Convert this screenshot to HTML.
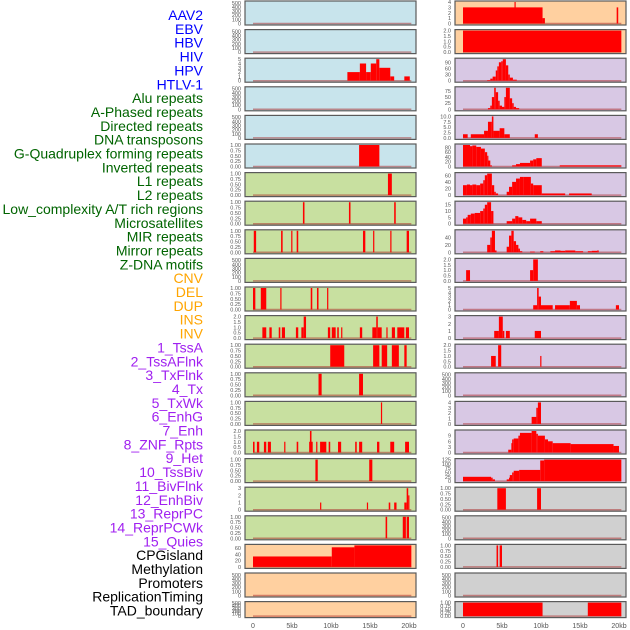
<!DOCTYPE html>
<html><head><meta charset="utf-8">
<style>
html,body{margin:0;padding:0;background:#fff;}
svg{display:block;font-family:"Liberation Sans",sans-serif;}
</style></head>
<body>
<svg id="chart" width="630" height="630" viewBox="0 0 630 630" xmlns="http://www.w3.org/2000/svg"></svg>
<script>
// ---- data ----
const labelNames = ["AAV2","EBV","HBV","HIV","HPV","HTLV-1","Alu repeats","A-Phased repeats","Directed repeats","DNA transposons","G-Quadruplex forming repeats","Inverted repeats","L1 repeats","L2 repeats","Low_complexity A/T rich regions","Microsatellites","MIR repeats","Mirror repeats","Z-DNA motifs","CNV","DEL","DUP","INS","INV","1_TssA","2_TssAFlnk","3_TxFlnk","4_Tx","5_TxWk","6_EnhG","7_Enh","8_ZNF_Rpts","9_Het","10_TssBiv","11_BivFlnk","12_EnhBiv","13_ReprPC","14_ReprPCWk","15_Quies","CPGisland","Methylation","Promoters","ReplicationTiming","TAD_boundary"];
const labelGroups = [0,0,0,0,0,0,1,1,1,1,1,1,1,1,1,1,1,1,1,2,2,2,2,2,3,3,3,3,3,3,3,3,3,3,3,3,3,3,3,4,4,4,4,4];
const xTickLabels = ["0","5kb","10kb","15kb","20kb"];
const xTickValues = [0,5,10,15,20];
const T500 = ["0","100","200","300","400","500"];
const T1 = ["0.00","0.25","0.50","0.75","1.00"];
const T2 = ["0.0","0.5","1.0","1.5","2.0"];
// each panel: bins [startKb, endKb, value]
const panelBins = [
 [], [],
 [[12.1,13.7,2],[13.7,14.5,4],[14.5,15.1,2],[15.1,15.8,4],[15.8,16.2,5],[16.2,17.6,3],[17.6,18.1,1],[19.4,20.1,1]],
 [], [],
 [[13.6,16.2,1]],
 [[17.3,17.8,1]],
 [[6.4,6.6,1],[12.3,12.5,1],[18.1,18.3,1]],
 [[0.1,0.4,1],[3.6,3.8,1],[4.9,5.0,1],[5.6,5.8,1],[14.1,14.4,1],[15.4,15.5,1],[17.6,17.7,1],[19.7,20.0,1]],
 [],
 [[0,0.3,1],[1.0,1.7,1],[3.5,3.6,1],[7.4,7.6,1],[8.2,8.4,1],[9.5,9.6,1]],
 [[1.2,1.7,1],[2.1,2.4,1],[3.3,3.5,1],[3.7,4.1,1],[5.5,5.8,1],[6.2,6.5,1],[6.5,6.8,2],[9.6,9.9,1],[10.1,10.6,1],[10.8,11.0,1],[11.3,11.4,1],[13.7,14.0,1],[15.3,15.8,1],[15.8,16.0,2],[16.0,16.5,1],[17.1,17.2,1],[17.8,18.2,1],[18.5,19.4,1],[19.6,20.0,1]],
 [[9.9,11.7,1],[15.4,16.2,1],[16.5,17.2,1],[17.8,18.7,1],[19.4,19.7,1]],
 [[8.4,8.8,1],[13.6,14.1,1]],
 [[16.4,16.5,1]],
 [[0,0.2,1],[0.5,0.8,1],[1.4,1.7,1],[1.9,2.3,1],[4.0,4.1,1],[5.6,5.8,1],[7.2,7.3,1],[7.3,7.5,2],[7.5,7.6,1],[8.1,8.2,1],[8.6,9.4,1],[9.7,9.9,1],[10.9,11.3,1],[13.1,13.3,1],[13.6,14.0,1],[15.9,16.2,1],[17.6,18.1,1],[19.5,20.0,1]],
 [[8.0,8.3,1],[14.9,15.3,1]],
 [[8.6,8.7,1],[14.6,14.7,1],[17.4,17.6,1],[18.1,18.4,1],[19.4,19.7,1],[19.7,19.9,3],[19.9,20.0,2]],
 [[17.0,17.2,1],[19.2,19.6,1],[19.7,20.0,1]],
 [[0,10.1,33],[10.1,13.0,62],[13.0,20.3,68]],
 [], [],
 // right column
 [[0,10.2,3],[10.2,10.5,1],[6.6,6.7,4],[19.7,19.9,3]],
 [[0,20.3,2]],
 [[3.1,3.5,3],[3.5,3.8,10],[3.8,4.2,20],[4.2,4.4,50],[4.4,4.6,70],[4.6,4.9,90],[4.9,5.1,95],[5.1,5.5,105],[5.5,5.8,75],[5.8,6.0,30],[6.0,6.4,15],[6.4,6.9,5]],
 [[3.2,3.5,5],[3.5,3.7,15],[3.7,4.0,50],[4.0,4.2,88],[4.2,4.5,70],[4.5,4.7,35],[4.7,5.0,15],[5.0,5.3,10],[5.3,5.5,50],[5.5,6.0,88],[6.0,6.3,45],[6.3,6.5,25],[6.5,6.8,10],[6.8,7.2,5]],
 [[0,0.6,1.7],[1.0,2.7,1.7],[2.7,3.2,3.3],[3.2,3.7,7.5],[3.7,3.9,10],[3.9,4.7,3.3],[4.7,5.3,4.5],[5.3,6.0,1.7],[9.2,9.6,1.7]],
 [[0,0.9,90],[0.9,1.2,85],[1.2,1.7,88],[1.7,2.3,82],[2.3,2.8,75],[2.8,3.1,60],[3.1,3.2,45],[3.2,3.5,25],[3.5,3.7,5],[6.3,6.8,5],[6.8,7.3,10],[7.3,8.6,15],[8.6,9.0,25],[9.0,9.4,30],[9.4,10.1,35],[12.4,20.3,5]],
 [[0,0.5,30],[0.5,0.9,32],[0.9,1.2,30],[1.2,1.7,32],[1.7,2.2,30],[2.2,2.6,35],[2.6,2.8,45],[2.8,3.1,60],[3.1,3.7,65],[3.7,4.0,30],[4.0,4.2,10],[4.2,4.5,5],[5.6,5.9,10],[5.9,6.3,25],[6.3,6.8,40],[6.8,7.3,50],[7.3,7.8,55],[7.8,8.7,55],[8.7,9.0,35],[9.0,10.1,30],[10.1,13.1,5],[13.6,16.5,5]],
 [[0,0.4,4],[0.4,0.6,5],[0.6,1.0,7],[1.0,1.5,8],[1.5,2.2,8.5],[2.2,2.6,10],[2.6,2.8,12],[2.8,3.1,15],[3.1,3.6,17],[3.6,3.9,10],[5.6,6.3,2],[6.3,6.7,4],[6.7,7.1,6],[7.1,7.6,5],[7.6,8.1,3],[8.1,8.6,2],[8.6,9.4,4],[9.4,10.1,2]],
 [[3.1,3.5,20],[3.5,3.7,40],[3.7,4.1,58],[4.1,4.3,5],[5.6,5.9,15],[5.9,6.2,45],[6.2,6.5,58],[6.5,6.8,30],[6.8,7.1,20],[7.1,7.3,10],[7.3,7.6,3],[8.6,9.2,2],[9.9,10.3,3],[11.2,11.8,3],[11.8,12.5,5],[12.5,13.1,4],[13.1,14.4,5],[14.4,15.4,3],[16.0,16.5,3],[16.5,17.2,4],[17.2,17.4,5]],
 [[0.4,0.9,1],[8.6,9.0,1],[9.0,9.6,2]],
 [[9.0,9.5,1],[9.5,9.7,5],[9.7,10.0,3],[10.0,11.5,1],[11.8,13.7,1],[13.7,14.6,2],[14.6,15.0,1],[19.6,20.0,1]],
 [[4.0,4.6,1],[4.6,5.1,3],[5.1,5.3,1],[5.5,6.0,1],[9.2,10.0,1]],
 [[3.6,4.2,1],[4.5,4.9,2],[9.9,10.0,1]],
 [],
 [[8.8,9.4,1.3],[9.4,9.6,3],[9.6,10.0,4]],
 [[5.8,6.2,1.5],[6.2,6.3,5],[6.3,6.5,7],[6.5,7.1,7.5],[7.1,7.3,9],[7.3,8.8,10.5],[8.8,9.4,11.5],[9.4,9.6,10],[9.6,10.5,9],[10.5,10.9,7],[10.9,11.5,6],[11.5,13.8,5],[13.8,19.3,4.5],[19.3,20.0,3.5]],
 [[0,3.6,25],[3.6,3.8,20],[3.8,4.1,10],[5.6,5.9,10],[5.9,6.0,20],[6.0,6.3,35],[6.3,6.5,50],[6.5,7.2,60],[7.2,9.9,65],[9.9,10.4,120],[10.4,20.3,125]],
 [[4.4,5.5,1],[9.5,10.0,1]],
 [],
 [[4.3,4.5,1],[4.7,5.0,1]],
 [],
 [[0,10.2,1],[16.0,20.3,1]]
];
const panelTicks = [
 T500,T500,["0","1","2","3","4","5"],T500,T500,T1,T1,T1,T1,T500,T1,T2,T1,T1,T1,T2,T1,["0","1","2","3"],T1,["0","20","40","60"],T500,T500,
 ["0","1","2","3","4"],T2,["0","30","60","90"],["0","25","50","75"],["0.0","2.5","5.0","7.5","10.0"],["0","20","40","60","80"],["0","20","40","60"],["0","5","10","15"],["0","20","40"],T2,["0","1","2","3","4","5"],["0","1","2","3"],T2,T500,["0","1","2","3","4"],["0","3","6","9"],["0","25","50","75","100","125"],T1,T500,T1,T500,T1
];
const panelColors = ["#c8e4ec","#c8e0a0","#ffd0a0","#d8c8e4","#d0d0d0"];
const labelColors = ["#0000ff","#006400","#ffa500","#a020f0","#000000"];
const panelGroup = [0,0,0,0,0,0,1,1,1,1,1,1,1,1,1,1,1,1,1,2,2,2, 2,2,3,3,3,3,3,3,3,3,3,3,3,3,3,3,3,4,4,4,4,4];

// ---- drawing ----
const NS="http://www.w3.org/2000/svg";
const svg=document.getElementById('chart');
function mk(tag,attrs,parent){const e=document.createElementNS(NS,tag);for(const k in attrs)e.setAttribute(k,attrs[k]);(parent||svg).appendChild(e);return e;}

// labels
labelNames.forEach((n,i)=>{
  const t=mk('text',{x:203,y:15+i*13.85+5,'text-anchor':'end','font-size':14,fill:labelColors[labelGroups[i]]});
  
  
  t.textContent=n;
});

const colX=[245,455], panelW=171, kbPx=7.8, x0Off=8;
function xScale(col,kb){return colX[col]+x0Off+kb*kbPx;}
function rowTop(r){return 1+r*28.6;}
function rowH(r){return r===21?16:24;}

panelBins.forEach((bins,p)=>{
  const col=p<22?0:1, r=p%22;
  const top=rowTop(r), h=rowH(r), left=colX[col];
  const g=mk('g',{});
  
  
  const bg=mk('rect',{x:left,y:top,width:panelW,height:h,fill:panelColors[panelGroup[p]]},g);
  
  
  const ticks=panelTicks[p];
  let ymax=0;bins.forEach(b=>{if(b[2]>ymax)ymax=b[2];});
  const topTick=parseFloat(ticks[ticks.length-1]);
  if(ymax===0) ymax=topTick*1.04;
  const bottom=top+h-1.5, sc=(h-2.5)/ymax;
  const yScale=v=>bottom-v*sc;
  // baseline
  const bl=mk('line',{x1:xScale(col,0),x2:xScale(col,20.3),y1:bottom,y2:bottom,stroke:'rgba(170,40,40,0.5)','stroke-width':1.5},g);
  
  
  bins.forEach(b=>{
    const x1=xScale(col,b[0]),x2=xScale(col,b[1]);
    const rc=mk('rect',{x:x1,y:yScale(b[2]),width:Math.max(1.2,x2-x1),height:b[2]*sc,fill:'#ff0000'},g);
    
    
  });
  const bd=mk('rect',{x:left,y:top,width:panelW,height:h,fill:'none',stroke:'#5a5a5a','stroke-width':1.2},g);
  
  
  ticks.forEach(tl=>{
    const v=parseFloat(tl); if(v>ymax*1.02) return;
    const tt=mk('text',{x:left-4,y:yScale(v)+2,'text-anchor':'end','font-size':5.5,fill:'#555'},g);
    
    
    tt.textContent=tl;
  });
});

// x axis ticks
[0,1].forEach(col=>{
  xTickValues.forEach((v,i)=>{
    const t=mk('text',{x:xScale(col,v),y:628,'text-anchor':'middle','font-size':7,fill:'#555'});
    
    
    t.textContent=xTickLabels[i];
  });
});
</script>
</body></html>
